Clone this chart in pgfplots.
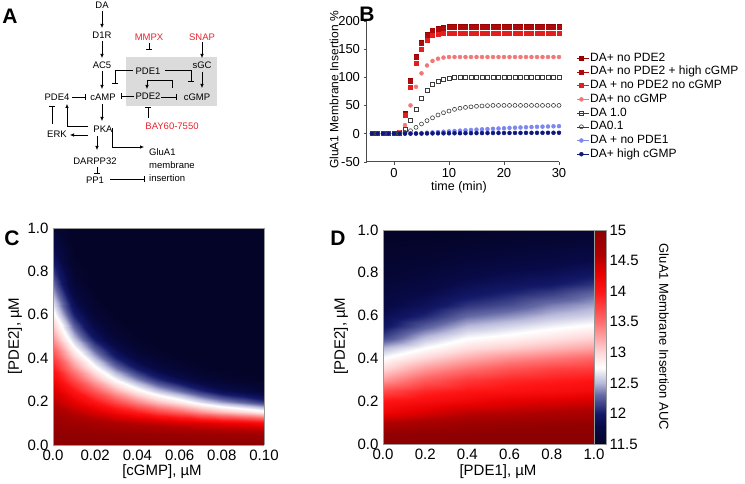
\documentclass[border=0pt]{standalone}
\usepackage{fontspec}
\setmainfont{Liberation Sans}
\usepackage{pgfplots}
\pgfplotsset{compat=1.18}
\usetikzlibrary{arrows.meta}
\definecolor{sA}{RGB}{150,0,0}
\definecolor{sB}{RGB}{175,10,10}
\definecolor{sC}{RGB}{228,30,30}
\definecolor{sD}{RGB}{242,120,120}
\definecolor{sE}{RGB}{60,60,60}
\definecolor{sG}{RGB}{125,135,240}
\definecolor{sH}{RGB}{15,25,125}
\definecolor{txtred}{RGB}{230,35,45}
\pgfplotsset{colormap={bwr}{rgb255(0pt)=(4,4,40); rgb255(30pt)=(8,10,72); rgb255(50pt)=(20,25,105); rgb255(80pt)=(100,105,165); rgb255(100pt)=(185,185,218); rgb255(125pt)=(255,255,255); rgb255(150pt)=(255,215,215); rgb255(200pt)=(255,110,110); rgb255(250pt)=(255,20,20); rgb255(280pt)=(230,0,0); rgb255(310pt)=(175,0,0); rgb255(350pt)=(140,0,0)}}
\pgfplotsset{hm/.style={anchor=south west, scale only axis, view={0}{90}, enlargelimits=false,
  axis line style={gray!80}, major tick length=0pt, ztick=\empty,
  tick label style={font=\fontsize{15}{16}\selectfont},
  xticklabel style={yshift=-1pt}, yticklabel style={xshift=-1pt},
  colormap name=bwr, point meta min=11.5, point meta max=15,
  /pgf/number format/assume math mode=true}}
\begin{document}
\begin{tikzpicture}[x=1pt,y=1pt]
\useasboundingbox (0,0) rectangle (745,483);
% ---------------- Panel A ----------------
\begin{scope}[shift={(0,483)},yscale=-1,
  every node/.style={font=\fontsize{9.5}{13}\selectfont, inner sep=1pt},
  act/.style={-{Latex[length=4pt,width=3.5pt]}, line width=0.6pt},
  inh/.style={-{Bar[width=6pt]}, line width=0.6pt}]
\fill[gray!28] (126,57) rectangle (217,106);
\node at (102,5) {DA};
\node at (102,35) {D1R};
\node at (102,65) {AC5};
\node at (103,97) {cAMP};
\node at (57,97) {PDE4};
\node at (148,71) {PDE1};
\node at (202,65) {sGC};
\node at (148,96) {PDE2};
\node at (197,97) {cGMP};
\node[txtred] at (149,37) {MMPX};
\node[txtred] at (202,37) {SNAP};
\node[txtred] at (172,126) {BAY60-7550};
\node at (103,129) {PKA};
\node at (57,134) {ERK};
\node at (95,161) {DARPP32};
\node at (95,180) {PP1};
\node[align=left, anchor=west] at (148,165) {GluA1\\membrane\\insertion};
\draw[act] (102,11)--(102,28);
\draw[act] (102,41)--(102,58);
\draw[act] (102,71)--(102,89);
\draw[inh] (72,97)--(86,97);
\draw[inh] (134,96)--(121,96);
\draw[inh] (133,70)--(115,70)--(115,84);
\draw[inh] (165,70)--(191,70)--(191,82);
\draw[act] (202,72)--(202,88);
\draw[inh] (149,43)--(149,50);
\draw[act] (202,42)--(202,58);
\draw[act] (172,88)--(172,80)--(147,80)--(147,89);
\draw[inh] (161,97)--(177,97);
\draw[inh] (148,118)--(148,107);
\draw[act] (102,104)--(102,121);
\draw[act] (88,135)--(70,135);
\draw[inh] (52,124)--(52,106);
\draw[act] (88,126)--(67,126)--(67,104);
\draw[act] (97,136)--(97,150);
\draw[act] (112,128)--(112,147)--(144,147);
\draw[inh] (97,167)--(97,174);
\draw[inh] (110,179)--(145,179);
\end{scope}
% panel letters
\node[font=\fontsize{21}{22}\selectfont\bfseries] at (10,467) {A};
\node[font=\fontsize{21}{22}\selectfont\bfseries] at (367,469) {B};
\node[font=\fontsize{21}{22}\selectfont\bfseries] at (12,245) {C};
\node[font=\fontsize{21}{22}\selectfont\bfseries] at (338,245) {D};
% ---------------- Panel B ----------------
\begin{axis}[at={(366.5pt,321.3pt)}, anchor=south west, scale only axis,
  width=192.5pt, height=140.7pt,
  xmin=-5, xmax=30, ymin=-50, ymax=200, axis lines*=left,
  axis line style={gray!60!black, line width=0.6pt},
  xtick={0,10,20,30}, ytick={-50,0,50,100,150,200},
  tick align=outside, major tick length=3pt, tick style={gray!60!black},
  tick label style={font=\fontsize{13}{14}\selectfont},
  /pgf/number format/assume math mode=true, clip=false,
  legend style={at={(axis description cs:1.078,0.794)}, anchor=north west, draw=none, fill=none,
    font=\fontsize{12}{13}\selectfont, row sep=1.5pt,
    nodes={inner sep=0.6pt, text height=8.5pt, text depth=2.5pt}},
  legend cell align=left,
  legend image code/.code={\draw[#1] plot coordinates {(4pt,0pt)}; \path (0pt,0pt)--(12pt,0pt);}]
\addplot[only marks, mark=square*, mark size=2pt, color=sA] coordinates {(-4,0)(-3,0)(-2,0)(-1,0)(0,0)(1,3)(2,37)(3,95)(4,137)(5,162)(6,176)(7,184)(8,187)(9,189)(10,190)(11,190)(12,190)(13,190)(14,190)(15,190)(16,190)(17,190)(18,190)(19,190)(20,190)(21,190)(22,190)(23,190)(24,190)(25,190)(26,190)(27,190)(28,190)(29,190)(30,190)};
\addplot[only marks, mark=square*, mark size=2pt, color=sB] coordinates {(-4,0)(-3,0)(-2,0)(-1,0)(0,0)(1,2)(2,35)(3,93)(4,136)(5,161)(6,175)(7,183)(8,186)(9,188)(10,189)(11,189)(12,189)(13,189)(14,189)(15,189)(16,189)(17,189)(18,189)(19,189)(20,189)(21,189)(22,189)(23,189)(24,189)(25,189)(26,189)(27,189)(28,189)(29,189)(30,189)};
\addplot[only marks, mark=square*, mark size=2pt, color=sC] coordinates {(-4,0)(-3,0)(-2,0)(-1,0)(0,0)(1,2)(2,32)(3,83)(4,125)(5,150)(6,166)(7,174)(8,177)(9,178)(10,178)(11,178)(12,178)(13,178)(14,178)(15,178)(16,178)(17,178)(18,178)(19,178)(20,178)(21,178)(22,178)(23,178)(24,178)(25,178)(26,178)(27,178)(28,178)(29,178)(30,178)};
\addplot[only marks, mark=*, mark size=2pt, color=sD] coordinates {(-4,0)(-3,0)(-2,0)(-1,0)(0,0)(1,2)(2,15)(3,50)(4,83)(5,107)(6,121)(7,129)(8,133)(9,135)(10,136)(11,136)(12,136)(13,136)(14,136)(15,136)(16,136)(17,136)(18,136)(19,136)(20,136)(21,136)(22,136)(23,136)(24,136)(25,136)(26,136)(27,136)(28,136)(29,136)(30,136)};
\addplot[only marks, mark=square, mark size=2pt, color=sE, mark options={line width=0.6pt}] coordinates {(-4,0)(-3,0)(-2,0)(-1,0)(0,0)(1,1)(2,8)(3,24)(4,43)(5,63)(6,77)(7,88)(8,93)(9,97)(10,99)(11,100)(12,100)(13,100)(14,100)(15,100)(16,100)(17,100)(18,100)(19,100)(20,100)(21,100)(22,100)(23,100)(24,100)(25,100)(26,100)(27,100)(28,100)(29,100)(30,100)};
\addplot[only marks, mark=o, mark size=2pt, color=sE, mark options={line width=0.6pt}] coordinates {(-4,0)(-3,0)(-2,0)(-1,0)(0,0)(1,0.5)(2,2)(3,5)(4,11)(5,17)(6,23)(7,28)(8,33)(9,37)(10,40)(11,43)(12,45)(13,46.5)(14,47.5)(15,48.5)(16,49)(17,49.5)(18,50)(19,50)(20,50)(21,50)(22,50)(23,50)(24,50)(25,50)(26,50)(27,50)(28,50)(29,50)(30,50)};
\addplot[only marks, mark=*, mark size=2pt, color=sG] coordinates {(-4,0)(-3,0)(-2,0)(-1,0)(0,0)(1,0)(2,0)(3,0)(4,0.5)(5,1)(6,1.5)(7,2)(8,2.7)(9,3.3)(10,4)(11,4.6)(12,5.2)(13,5.8)(14,6.4)(15,7)(16,7.5)(17,8)(18,8.5)(19,9)(20,9.5)(21,10)(22,10.4)(23,10.8)(24,11.2)(25,11.6)(26,12)(27,12.3)(28,12.6)(29,12.9)(30,13.2)};
\addplot[only marks, mark=*, mark size=2pt, color=sH] coordinates {(-4,0)(-3,0)(-2,0)(-1,0)(0,0)(1,0)(2,0)(3,0)(4,0)(5,0)(6,0.2)(7,0.3)(8,0.4)(9,0.45)(10,0.5)(11,0.55)(12,0.6)(13,0.7)(14,0.75)(15,0.8)(16,0.85)(17,0.9)(18,0.95)(19,1)(20,1)(21,1.05)(22,1.1)(23,1.15)(24,1.2)(25,1.2)(26,1.25)(27,1.3)(28,1.35)(29,1.4)(30,1.4)};
\legend{DA+ no PDE2, DA+ no PDE2 + high cGMP, DA + no PDE2 no cGMP, DA+ no cGMP, DA 1.0, DA0.1, DA + no PDE1, DA+ high cGMP}
\end{axis}
\node[rotate=90, font=\fontsize{12}{13}\selectfont] at (334,393) {GluA1 Membrane Insertion \%};
\node[font=\fontsize{12.5}{13}\selectfont] at (459,296) {time (min)};
% ---------------- Panel C ----------------
\begin{axis}[hm, at={(53pt,38pt)}, width=211pt, height=217pt,
  xmin=0, xmax=0.1, ymin=0, ymax=1,
  xtick={0,0.02,0.04,0.06,0.08,0.1}, xticklabels={0.0,0.02,0.04,0.06,0.08,0.10},
  ytick={0,0.2,0.4,0.6,0.8,1}, yticklabels={0.0,0.2,0.4,0.6,0.8,1.0}]
\addplot3[surf, shader=interp, mesh/cols=11, mesh/rows=16] coordinates {
(0,0,15) (0.01,0,15) (0.02,0,15) (0.03,0,15) (0.04,0,15) (0.05,0,15) (0.06,0,15) (0.07,0,15) (0.08,0,15) (0.09,0,15) (0.1,0,15)
(0,0.05,14.95) (0.01,0.05,14.93) (0.02,0.05,14.91) (0.03,0.05,14.89) (0.04,0.05,14.87) (0.05,0.05,14.85) (0.06,0.05,14.83) (0.07,0.05,14.81) (0.08,0.05,14.79) (0.09,0.05,14.77) (0.1,0.05,14.75)
(0,0.1,14.84) (0.01,0.1,14.78) (0.02,0.1,14.70) (0.03,0.1,14.62) (0.04,0.1,14.55) (0.05,0.1,14.48) (0.06,0.1,14.40) (0.07,0.1,14.33) (0.08,0.1,14.26) (0.09,0.1,14.20) (0.1,0.1,14.10)
(0,0.15,14.72) (0.01,0.15,14.53) (0.02,0.15,14.36) (0.03,0.15,14.15) (0.04,0.15,13.96) (0.05,0.15,13.74) (0.06,0.15,13.56) (0.07,0.15,13.33) (0.08,0.15,13.14) (0.09,0.15,13.00) (0.1,0.15,12.84)
(0,0.2,14.55) (0.01,0.2,14.29) (0.02,0.2,14.01) (0.03,0.2,13.70) (0.04,0.2,13.39) (0.05,0.2,13.11) (0.06,0.2,12.88) (0.07,0.2,12.63) (0.08,0.2,12.43) (0.09,0.2,12.28) (0.1,0.2,12.12)
(0,0.25,14.39) (0.01,0.25,14.01) (0.02,0.25,13.62) (0.03,0.25,13.21) (0.04,0.25,12.85) (0.05,0.25,12.55) (0.06,0.25,12.32) (0.07,0.25,12.07) (0.08,0.25,11.86) (0.09,0.25,11.76) (0.1,0.25,11.64)
(0,0.3,14.19) (0.01,0.3,13.70) (0.02,0.3,13.21) (0.03,0.3,12.75) (0.04,0.3,12.40) (0.05,0.3,12.09) (0.06,0.3,11.86) (0.07,0.3,11.68) (0.08,0.3,11.59) (0.09,0.3,11.55) (0.1,0.3,11.52)
(0,0.35,13.99) (0.01,0.35,13.37) (0.02,0.35,12.83) (0.03,0.35,12.37) (0.04,0.35,12.01) (0.05,0.35,11.75) (0.06,0.35,11.62) (0.07,0.35,11.54) (0.08,0.35,11.5) (0.09,0.35,11.5) (0.1,0.35,11.5)
(0,0.4,13.77) (0.01,0.4,13.06) (0.02,0.4,12.50) (0.03,0.4,12.03) (0.04,0.4,11.73) (0.05,0.4,11.58) (0.06,0.4,11.52) (0.07,0.4,11.5) (0.08,0.4,11.5) (0.09,0.4,11.5) (0.1,0.4,11.5)
(0,0.45,13.52) (0.01,0.45,12.75) (0.02,0.45,12.20) (0.03,0.45,11.78) (0.04,0.45,11.58) (0.05,0.45,11.51) (0.06,0.45,11.5) (0.07,0.45,11.5) (0.08,0.45,11.5) (0.09,0.45,11.5) (0.1,0.45,11.5)
(0,0.5,13.28) (0.01,0.5,12.50) (0.02,0.5,11.92) (0.03,0.5,11.62) (0.04,0.5,11.52) (0.05,0.5,11.5) (0.06,0.5,11.5) (0.07,0.5,11.5) (0.08,0.5,11.5) (0.09,0.5,11.5) (0.1,0.5,11.5)
(0,0.6,12.84) (0.01,0.6,12.03) (0.02,0.6,11.62) (0.03,0.6,11.5) (0.04,0.6,11.5) (0.05,0.6,11.5) (0.06,0.6,11.5) (0.07,0.6,11.5) (0.08,0.6,11.5) (0.09,0.6,11.5) (0.1,0.6,11.5)
(0,0.7,12.46) (0.01,0.7,11.71) (0.02,0.7,11.51) (0.03,0.7,11.5) (0.04,0.7,11.5) (0.05,0.7,11.5) (0.06,0.7,11.5) (0.07,0.7,11.5) (0.08,0.7,11.5) (0.09,0.7,11.5) (0.1,0.7,11.5)
(0,0.8,12.12) (0.01,0.8,11.56) (0.02,0.8,11.5) (0.03,0.8,11.5) (0.04,0.8,11.5) (0.05,0.8,11.5) (0.06,0.8,11.5) (0.07,0.8,11.5) (0.08,0.8,11.5) (0.09,0.8,11.5) (0.1,0.8,11.5)
(0,0.9,11.84) (0.01,0.9,11.5) (0.02,0.9,11.5) (0.03,0.9,11.5) (0.04,0.9,11.5) (0.05,0.9,11.5) (0.06,0.9,11.5) (0.07,0.9,11.5) (0.08,0.9,11.5) (0.09,0.9,11.5) (0.1,0.9,11.5)
(0,1,11.64) (0.01,1,11.5) (0.02,1,11.5) (0.03,1,11.5) (0.04,1,11.5) (0.05,1,11.5) (0.06,1,11.5) (0.07,1,11.5) (0.08,1,11.5) (0.09,1,11.5) (0.1,1,11.5)
};
\end{axis}
\node[rotate=90, font=\fontsize{15}{16}\selectfont] at (15,147) {[PDE2], µM};
\node[font=\fontsize{15}{16}\selectfont] at (162,11) {[cGMP], µM};
% ---------------- Panel D ----------------
\begin{axis}[hm, at={(383pt,39pt)}, width=211pt, height=214pt,
  xmin=0, xmax=1, ymin=0, ymax=1,
  xtick={0,0.2,0.4,0.6,0.8,1}, xticklabels={0.0,0.2,0.4,0.6,0.8,1.0},
  ytick={0,0.2,0.4,0.6,0.8,1}, yticklabels={0.0,0.2,0.4,0.6,0.8,1.0},
  colorbar, colorbar style={width=12pt, at={(1,1)}, anchor=north west, xshift=9pt,
    ytick={11.5,12,12.5,13,13.5,14,14.5,15}, axis line style={gray!80}, major tick length=0pt,
    yticklabel style={font=\fontsize{15}{16}\selectfont, /pgf/number format/assume math mode=true}}]
\addplot3[surf, shader=interp, mesh/cols=6, mesh/rows=21] coordinates {
(0,0,15) (0.2,0,15) (0.4,0,15) (0.6,0,15) (0.8,0,15) (1,0,15)
(0,0.05,14.9) (0.2,0.05,14.95) (0.4,0.05,14.97) (0.6,0.05,15) (0.8,0.05,15) (1,0.05,15)
(0,0.1,14.6) (0.2,0.1,14.7) (0.4,0.1,14.8) (0.6,0.1,14.85) (0.8,0.1,14.88) (1,0.1,14.9)
(0,0.15,14.2) (0.2,0.15,14.35) (0.4,0.15,14.5) (0.6,0.15,14.55) (0.8,0.15,14.6) (1,0.15,14.65)
(0,0.2,14.0) (0.2,0.2,14.1) (0.4,0.2,14.2) (0.6,0.2,14.3) (0.8,0.2,14.35) (1,0.2,14.4)
(0,0.25,13.7) (0.2,0.25,13.9) (0.4,0.25,14.0) (0.6,0.25,14.05) (0.8,0.25,14.1) (1,0.25,14.15)
(0,0.3,13.3) (0.2,0.3,13.6) (0.4,0.3,13.8) (0.6,0.3,13.9) (0.8,0.3,13.95) (1,0.3,14.0)
(0,0.35,13.0) (0.2,0.35,13.3) (0.4,0.35,13.5) (0.6,0.35,13.65) (0.8,0.35,13.75) (1,0.35,13.8)
(0,0.4,12.75) (0.2,0.4,13.0) (0.4,0.4,13.2) (0.6,0.4,13.35) (0.8,0.4,13.45) (1,0.4,13.55)
(0,0.45,12.5) (0.2,0.45,12.75) (0.4,0.45,12.95) (0.6,0.45,13.05) (0.8,0.45,13.15) (1,0.45,13.25)
(0,0.5,12.15) (0.2,0.5,12.5) (0.4,0.5,12.72) (0.6,0.5,12.8) (0.8,0.5,12.9) (1,0.5,13.0)
(0,0.55,11.95) (0.2,0.55,12.25) (0.4,0.55,12.5) (0.6,0.55,12.6) (0.8,0.55,12.7) (1,0.55,12.78)
(0,0.6,11.85) (0.2,0.6,12.05) (0.4,0.6,12.3) (0.6,0.6,12.4) (0.8,0.6,12.52) (1,0.6,12.6)
(0,0.65,11.75) (0.2,0.65,11.9) (0.4,0.65,12.1) (0.6,0.65,12.2) (0.8,0.65,12.35) (1,0.65,12.45)
(0,0.7,11.7) (0.2,0.7,11.8) (0.4,0.7,11.95) (0.6,0.7,12.05) (0.8,0.7,12.15) (1,0.7,12.3)
(0,0.75,11.65) (0.2,0.75,11.72) (0.4,0.75,11.85) (0.6,0.75,11.92) (0.8,0.75,11.98) (1,0.75,12.1)
(0,0.8,11.6) (0.2,0.8,11.66) (0.4,0.8,11.75) (0.6,0.8,11.82) (0.8,0.8,11.86) (1,0.8,11.95)
(0,0.85,11.57) (0.2,0.85,11.6) (0.4,0.85,11.67) (0.6,0.85,11.72) (0.8,0.85,11.76) (1,0.85,11.82)
(0,0.9,11.55) (0.2,0.9,11.56) (0.4,0.9,11.6) (0.6,0.9,11.65) (0.8,0.9,11.68) (1,0.9,11.72)
(0,0.95,11.52) (0.2,0.95,11.53) (0.4,0.95,11.55) (0.6,0.95,11.58) (0.8,0.95,11.6) (1,0.95,11.64)
(0,1,11.5) (0.2,1,11.5) (0.4,1,11.52) (0.6,1,11.55) (0.8,1,11.56) (1,1,11.58)
};
\end{axis}
\node[rotate=90, font=\fontsize{15}{16}\selectfont] at (341,147) {[PDE2], µM};
\node[font=\fontsize{15}{16}\selectfont] at (498,11) {[PDE1], µM};
\node[rotate=-90, font=\fontsize{13}{14}\selectfont] at (664,146) {GluA1 Membrane Insertion AUC};
\end{tikzpicture}
\end{document}
